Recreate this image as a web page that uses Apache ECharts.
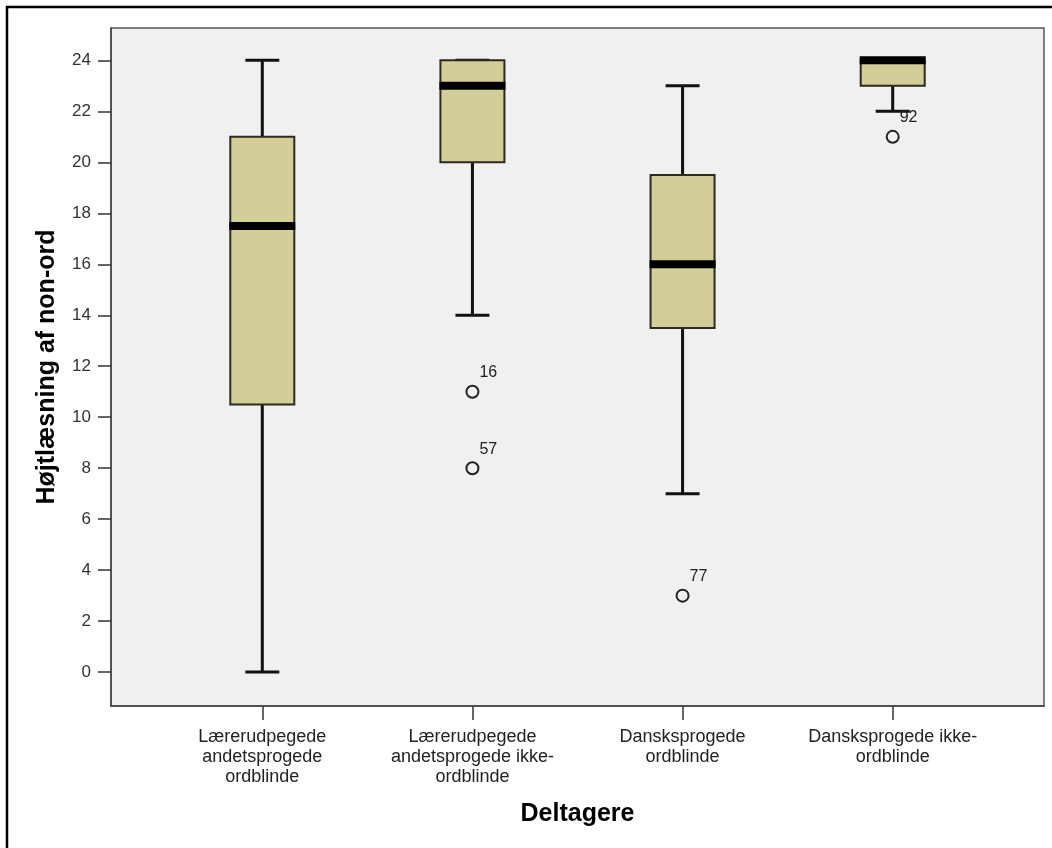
<!DOCTYPE html>
<html>
<head>
<meta charset="utf-8">
<script src="https://cdn.jsdelivr.net/npm/echarts@6/dist/echarts.min.js"></script>
<style>
  html, body { margin: 0; padding: 0; background: #fff; }
  #main { width: 1052px; height: 848px; }
</style>
</head>
<body>
<div id="main"></div>
<script>
// data
var categories = [
  'Lærerudpegede\nandetsprogede\nordblinde',
  'Lærerudpegede\nandetsprogede ikke-\nordblinde',
  'Dansksprogede\nordblinde',
  'Dansksprogede ikke-\nordblinde'
];
var groupPos = [1, 2, 3, 4];
var whiskerLow = [0, 14, 7, 22];
var q1 = [10.5, 20, 13.5, 23];
var median = [17.5, 23, 16, 24];
var q3 = [21, 24, 19.5, 24];
var whiskerHigh = [24, 24, 23, 24];
var outlierGroup = [2, 2, 3, 4];
var outlierValue = [11, 8, 3, 21];
var outlierId = ['16', '57', '77', '92'];
var yTicks = [0, 2, 4, 6, 8, 10, 12, 14, 16, 18, 20, 22, 24];

var FONT = 'Arial, "Liberation Sans", sans-serif';

function renderBox(params, api) {
  var x = api.value(0);
  var pLow = api.coord([x, api.value(1)]);
  var pQ1 = api.coord([x, api.value(2)]);
  var pMed = api.coord([x, api.value(3)]);
  var pQ3 = api.coord([x, api.value(4)]);
  var pHigh = api.coord([x, api.value(5)]);
  var boxHalf = 32;   // px
  var capHalf = 17;
  var lineStyle = { stroke: '#111', lineWidth: 3, fill: null };
  return {
    type: 'group',
    children: [
      { type: 'line', shape: { x1: pLow[0], y1: pLow[1], x2: pHigh[0], y2: pHigh[1] }, style: lineStyle },
      { type: 'line', shape: { x1: pLow[0] - capHalf, y1: pLow[1], x2: pLow[0] + capHalf, y2: pLow[1] }, style: lineStyle },
      { type: 'line', shape: { x1: pHigh[0] - capHalf, y1: pHigh[1], x2: pHigh[0] + capHalf, y2: pHigh[1] }, style: lineStyle },
      {
        type: 'rect',
        shape: { x: pQ3[0] - boxHalf, y: pQ3[1], width: boxHalf * 2, height: pQ1[1] - pQ3[1] },
        style: { fill: '#d3ce97', stroke: '#2b2b22', lineWidth: 2 }
      },
      {
        type: 'rect',
        shape: { x: pMed[0] - boxHalf - 1, y: pMed[1] - 4, width: boxHalf * 2 + 2, height: 8 },
        style: { fill: '#000' }
      }
    ]
  };
}

var boxData = [];
for (var i = 0; i < groupPos.length; i++) {
  boxData.push([groupPos[i], whiskerLow[i], q1[i], median[i], q3[i], whiskerHigh[i]]);
}
var outlierData = [];
for (var j = 0; j < outlierValue.length; j++) {
  outlierData.push([outlierGroup[j], outlierValue[j], outlierId[j]]);
}

var chart = echarts.init(document.getElementById('main'));
var option = {
  backgroundColor: '#fff',
  animation: false,
  textStyle: { fontFamily: FONT },
  graphic: [
    {
      type: 'rect',
      shape: { x: 7, y: 7, width: 1200, height: 1000 },
      style: { fill: null, stroke: '#000', lineWidth: 2.5 },
      silent: true
    }
  ],
  grid: {
    left: 111,
    top: 28,
    right: 8,
    bottom: 142,
    show: true,
    backgroundColor: '#f0f0f0',
    borderColor: '#555',
    borderWidth: 1.5
  },
  xAxis: {
    type: 'value',
    min: 0.28,
    max: 4.72,
    name: 'Deltagere',
    nameLocation: 'middle',
    nameGap: 96,
    nameTextStyle: { fontSize: 25, fontWeight: 'bold', color: '#000', fontFamily: FONT },
    axisLine: { show: true, onZero: false, lineStyle: { color: '#444', width: 1.5 } },
    axisTick: { show: true, customValues: groupPos, length: 14, lineStyle: { color: '#333', width: 1.5 } },
    axisLabel: {
      customValues: groupPos,
      formatter: function (v) { return categories[Math.round(v) - 1]; },
      fontSize: 18,
      lineHeight: 20,
      color: '#222',
      margin: 21,
      fontFamily: FONT
    },
    splitLine: { show: false }
  },
  yAxis: {
    type: 'value',
    min: -1.33,
    max: 25.27,
    name: 'Højtlæsning af non-ord',
    nameLocation: 'middle',
    nameGap: 51,
    nameTextStyle: { fontSize: 25, fontWeight: 'bold', color: '#000', fontFamily: FONT },
    axisLine: { show: true, onZero: false, lineStyle: { color: '#444', width: 1.5 } },
    axisTick: { show: true, customValues: yTicks, length: 13, lineStyle: { color: '#333', width: 1.5 } },
    axisLabel: { customValues: yTicks, fontSize: 17, color: '#333', margin: 20, fontFamily: FONT },
    splitLine: { show: false }
  },
  series: [
    {
      name: 'boxes',
      type: 'custom',
      renderItem: renderBox,
      data: boxData,
      encode: { x: 0, y: [1, 2, 3, 4, 5] },
      z: 2
    },
    {
      name: 'outliers',
      type: 'scatter',
      data: outlierData,
      symbol: 'circle',
      symbolSize: 12,
      itemStyle: { color: '#f0f0f0', borderColor: '#222', borderWidth: 2, opacity: 1 },
      label: {
        show: true,
        position: [14, -20],
        formatter: function (p) { return p.value[2]; },
        fontSize: 16,
        color: '#222',
        fontFamily: FONT
      },
      z: 3
    }
  ]
};
chart.setOption(option);
</script>
</body>
</html>
